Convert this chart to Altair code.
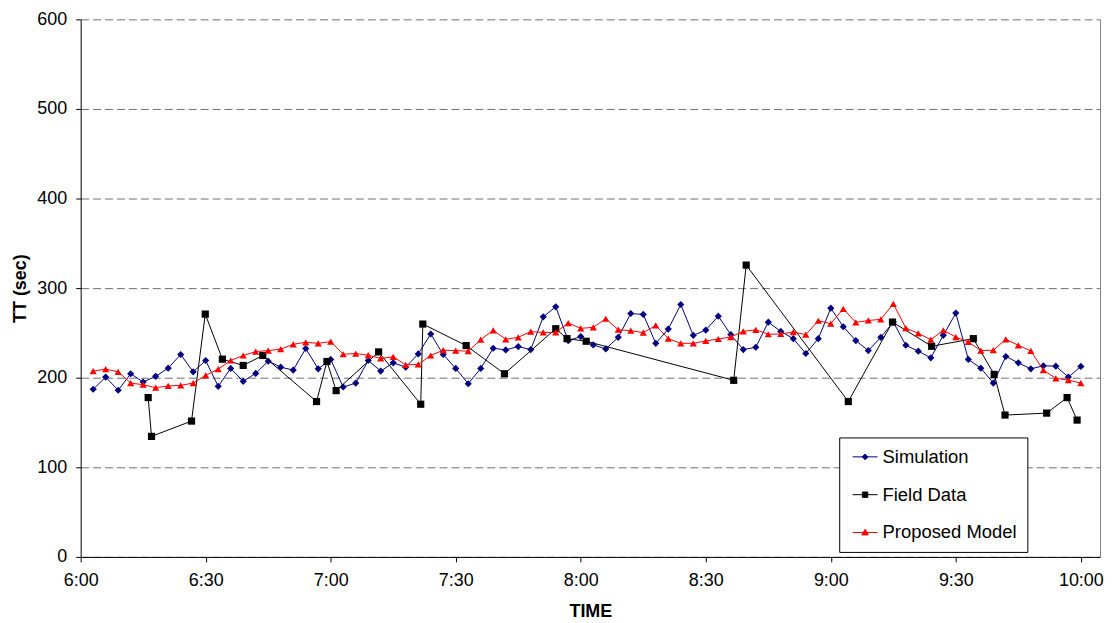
import altair as alt
import pandas as pd

# ---- data (minutes after 6:00, travel time in sec) ----
sim_minutes = list(range(3, 243, 3))
sim_values = [187.1, 200.7, 186.0, 204.4, 195.2, 201.5, 210.7, 225.9, 206.6, 219.2,
              190.4, 210.4, 196.0, 204.8, 218.5, 211.8, 208.5, 232.6, 209.9, 220.4,
              189.6, 194.0, 219.2, 207.4, 216.6, 211.8, 226.6, 248.8, 225.9, 210.4,
              193.3, 210.4, 232.9, 231.0, 234.8, 231.4, 268.0, 279.1, 241.4, 245.9,
              236.6, 232.1, 245.1, 271.7, 270.6, 238.4, 254.3, 281.7, 247.3, 253.2,
              268.7, 248.1, 231.4, 234.0, 262.0, 251.7, 243.6, 227.0, 243.6, 277.6,
              256.9, 241.4, 230.3, 245.1, 262.1, 236.2, 229.6, 222.2, 247.3, 272.1,
              220.4, 210.7, 194.0, 223.7, 216.6, 209.9, 213.3, 212.9, 200.7, 212.6]
prop_values = [207.4, 209.6, 206.6, 194.0, 192.2, 188.9, 190.8, 191.5, 194.0, 202.6,
               209.6, 219.2, 224.8, 229.2, 230.3, 231.8, 237.3, 239.5, 238.4, 240.3,
               226.2, 227.0, 225.1, 221.5, 223.3, 214.4, 214.8, 224.8, 230.7, 230.3,
               229.6, 242.5, 252.9, 242.9, 245.1, 251.4, 250.6, 250.6, 261.0, 255.1,
               256.2, 265.8, 253.6, 252.5, 250.3, 258.4, 243.6, 238.4, 238.4, 241.0,
               243.2, 245.4, 251.7, 253.5, 248.5, 248.8, 251.0, 248.1, 263.6, 260.3,
               276.9, 261.7, 263.9, 265.1, 282.5, 255.4, 249.5, 242.5, 252.9, 245.4,
               239.9, 230.3, 230.7, 242.9, 236.2, 229.9, 208.5, 199.3, 197.4, 194.0]
field_minutes = [16.2, 17.0, 26.6, 29.9, 34.0, 39.0, 43.7, 56.6, 59.1, 61.3,
                 71.5, 81.6, 82.1, 92.5, 101.7, 114.0, 116.7, 121.3, 156.7, 159.7,
                 184.2, 194.8, 204.2, 214.2, 219.2, 221.8, 231.8, 236.7, 239.1]
field_values = [177.8, 134.5, 151.6, 271.0, 220.7, 213.7, 224.8, 173.4, 218.1, 185.6,
                228.8, 170.4, 259.9, 235.9, 204.4, 254.7, 243.6, 240.7, 197.1, 325.7,
                173.4, 262.1, 235.1, 243.6, 203.7, 158.3, 160.5, 177.8, 152.7]

series_names = ["Simulation", "Field Data", "Proposed Model"]
series_colors = ["#000080", "#000000", "#FF0000"]
series_shapes = ["diamond", "square", "triangle-up"]
x_ticks = [0, 30, 60, 90, 120, 150, 180, 210, 240]
y_ticks = [0, 100, 200, 300, 400, 500, 600]

# legend glyphs: short line with a small marker on it
legend_paths = [
    "M-1.39,0H1.39M0,-0.32L0.32,0L0,0.32L-0.32,0Z",
    "M-1.39,0H1.39M-0.3,-0.3H0.3V0.3H-0.3Z",
    "M-1.39,0H1.39M0,-0.36L0.36,0.27H-0.36Z",
]

sim_df = pd.DataFrame({"minute": sim_minutes, "tt": sim_values, "series": series_names[0]})
field_df = pd.DataFrame({"minute": field_minutes, "tt": field_values, "series": series_names[1]})
prop_df = pd.DataFrame({"minute": sim_minutes, "tt": prop_values, "series": series_names[2]})
all_df = pd.concat([sim_df, field_df, prop_df], ignore_index=True)

FONT = "Liberation Sans"

label_expr = ("(6 + floor(datum.value / 60)) + ':' + "
              "(datum.value % 60 < 10 ? '0' : '') + (datum.value % 60)")

x_scale = alt.Scale(domain=[0, 244.6], nice=False, zero=False)
x_main = alt.X("minute:Q", scale=x_scale,
               axis=alt.Axis(values=x_ticks, labelExpr=label_expr, title="TIME",
                             grid=False, tickSize=5, labelPadding=10, titlePadding=13,
                             labelFlush=False, labelOverlap=False))

y_scale = alt.Scale(domain=[0, 600], nice=False)
y_main = alt.Y("tt:Q", scale=y_scale,
               axis=alt.Axis(values=y_ticks, title="TT (sec)", grid=True, gridDash=[8, 4],
                             gridColor="#707070", gridWidth=1, tickSize=5, labelPadding=9,
                             titlePadding=7, labelFlush=False))
y_plain = alt.Y("tt:Q", scale=y_scale, axis=None)
y_right = alt.Y("tt:Q", scale=y_scale,
                axis=alt.Axis(orient="right", labels=False, ticks=False, grid=False,
                              title=None, domainColor="#808080", domainWidth=1))


def series_layers(df, color, shape, first=False):
    line = alt.Chart(df).mark_line(color=color, strokeWidth=1).encode(
        x=x_main, y=y_main if first else y_plain)
    pts = alt.Chart(df).mark_point(filled=True, shape=shape, size=52, color=color,
                                   opacity=1).encode(x=x_main, y=y_plain)
    return [line, pts]


layers = []
layers += series_layers(sim_df, series_colors[0], series_shapes[0], first=True)
layers += series_layers(field_df, series_colors[1], series_shapes[1])
layers += series_layers(prop_df, series_colors[2], series_shapes[2])

border = alt.Chart(sim_df).mark_line(opacity=0).encode(x=x_main, y=y_right)

legend_layer = alt.Chart(all_df).transform_filter("false").mark_point(
    filled=True, size=324, strokeWidth=1, opacity=1).encode(
    x=x_main, y=y_plain,
    shape=alt.Shape("series:N", sort=None,
                    scale=alt.Scale(domain=series_names, range=legend_paths),
                    legend=alt.Legend(title=None)),
    fill=alt.Fill("series:N", sort=None,
                  scale=alt.Scale(domain=series_names, range=series_colors),
                  legend=alt.Legend(title=None)),
    stroke=alt.Stroke("series:N", sort=None,
                      scale=alt.Scale(domain=series_names, range=series_colors),
                      legend=alt.Legend(title=None)),
)

chart = alt.layer(*layers, border, legend_layer).resolve_axis(y="independent").properties(
    width=1024, height=540,
    autosize=alt.AutoSizeParams(type="none"),
    padding={"left": 73, "top": 10, "right": 4, "bottom": 64},
).configure_view(stroke=None).configure_axis(
    labelFont=FONT, labelFontSize=18, labelColor="#000000",
    titleFont=FONT, titleFontSize=18, titleFontWeight="bold", titleColor="#000000",
    domainColor="#000000", tickColor="#000000", domainWidth=1,
).configure_legend(
    orient="none", legendX=762, legendY=420, padding=10, rowPadding=19,
    strokeColor="#000000", fillColor="#FFFFFF", labelFont=FONT, labelFontSize=18.5,
    labelColor="#000000", symbolSize=324, symbolOffset=6.5, labelOffset=8,
    symbolStrokeWidth=1, cornerRadius=0,
)

chart.save("out.html", embed_options={"renderer": "svg", "actions": False})
